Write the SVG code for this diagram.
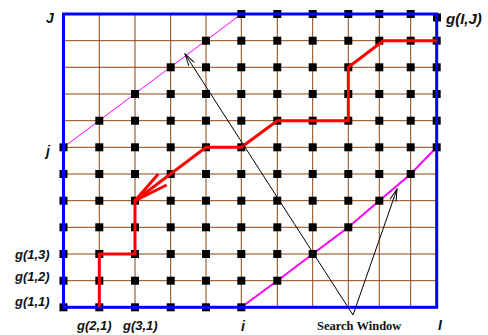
<svg xmlns="http://www.w3.org/2000/svg" xmlns:xlink="http://www.w3.org/1999/xlink" width="488" height="335" viewBox="0 0 488 335">
<style>
.grid line{stroke:#8B4513;stroke-width:1}
.mag{stroke:#FF00FF;fill:none}
.frame{stroke:#0000FF;stroke-width:3;fill:none}
.path{stroke:#FF0000;stroke-width:3;fill:none;stroke-linejoin:miter}
.arr{stroke:#000;stroke-width:1;fill:none}
.lbl{font-family:"Liberation Sans",Arial,sans-serif;font-weight:bold;font-style:italic;fill:#111}
.sw{font-family:"Liberation Serif","Times New Roman",serif;font-weight:bold;font-size:12.5px;fill:#111}
</style>
<defs>
<rect id="sq" x="-4" y="-4" width="8" height="8" fill="#000"/>
<marker id="ah" viewBox="-13 -5 14 10" refX="0" refY="0" markerWidth="14" markerHeight="10" markerUnits="userSpaceOnUse" orient="auto">
<path d="M-12,-3.2 L0,0 L-12,3.2" fill="none" stroke="#000" stroke-width="1"/>
</marker>
</defs>
<g id="grid" class="grid">
<line x1="99.3" y1="14" x2="99.3" y2="307.3"/>
<line x1="135" y1="14" x2="135" y2="307.3"/>
<line x1="170.7" y1="14" x2="170.7" y2="307.3"/>
<line x1="206" y1="14" x2="206" y2="307.3"/>
<line x1="241.3" y1="14" x2="241.3" y2="307.3"/>
<line x1="277.3" y1="14" x2="277.3" y2="307.3"/>
<line x1="312.7" y1="14" x2="312.7" y2="307.3"/>
<line x1="348.3" y1="14" x2="348.3" y2="307.3"/>
<line x1="379.3" y1="14" x2="379.3" y2="307.3"/>
<line x1="410.7" y1="14" x2="410.7" y2="307.3"/>
<line x1="63.5" y1="40.7" x2="436.7" y2="40.7"/>
<line x1="63.5" y1="67.3" x2="436.7" y2="67.3"/>
<line x1="63.5" y1="94" x2="436.7" y2="94"/>
<line x1="63.5" y1="120.7" x2="436.7" y2="120.7"/>
<line x1="63.5" y1="147.3" x2="436.7" y2="147.3"/>
<line x1="63.5" y1="174" x2="436.7" y2="174"/>
<line x1="63.5" y1="200.7" x2="436.7" y2="200.7"/>
<line x1="63.5" y1="227.3" x2="436.7" y2="227.3"/>
<line x1="63.5" y1="254" x2="436.7" y2="254"/>
<line x1="63.5" y1="280.7" x2="436.7" y2="280.7"/>
</g>
<g id="window">
<line class="mag" x1="63.5" y1="147.3" x2="241.3" y2="14" stroke-width="1"/>
<polyline class="mag" stroke-width="2" points="241.3,307.3 277.3,280.7 312.7,254 348.3,227.3 379.3,200.7 410.7,174 434,150"/>
</g>
<g id="nodes">
<g id="row1"><use href="#sq" x="63.5" y="307.3"/><use href="#sq" x="99.3" y="307.3"/><use href="#sq" x="135" y="307.3"/><use href="#sq" x="170.7" y="307.3"/><use href="#sq" x="206" y="307.3"/><use href="#sq" x="241.3" y="307.3"/></g>
<g id="row2"><use href="#sq" x="63.5" y="280.7"/><use href="#sq" x="99.3" y="280.7"/><use href="#sq" x="135" y="280.7"/><use href="#sq" x="170.7" y="280.7"/><use href="#sq" x="206" y="280.7"/><use href="#sq" x="241.3" y="280.7"/><use href="#sq" x="277.3" y="280.7"/></g>
<g id="row3"><use href="#sq" x="63.5" y="254"/><use href="#sq" x="99.3" y="254"/><use href="#sq" x="135" y="254"/><use href="#sq" x="170.7" y="254"/><use href="#sq" x="206" y="254"/><use href="#sq" x="241.3" y="254"/><use href="#sq" x="277.3" y="254"/><use href="#sq" x="312.7" y="254"/></g>
<g id="row4"><use href="#sq" x="63.5" y="227.3"/><use href="#sq" x="99.3" y="227.3"/><use href="#sq" x="135" y="227.3"/><use href="#sq" x="170.7" y="227.3"/><use href="#sq" x="206" y="227.3"/><use href="#sq" x="241.3" y="227.3"/><use href="#sq" x="277.3" y="227.3"/><use href="#sq" x="312.7" y="227.3"/><use href="#sq" x="348.3" y="227.3"/></g>
<g id="row5"><use href="#sq" x="63.5" y="200.7"/><use href="#sq" x="99.3" y="200.7"/><use href="#sq" x="135" y="200.7"/><use href="#sq" x="170.7" y="200.7"/><use href="#sq" x="206" y="200.7"/><use href="#sq" x="241.3" y="200.7"/><use href="#sq" x="277.3" y="200.7"/><use href="#sq" x="312.7" y="200.7"/><use href="#sq" x="348.3" y="200.7"/><use href="#sq" x="379.3" y="200.7"/></g>
<g id="row6"><use href="#sq" x="63.5" y="174"/><use href="#sq" x="99.3" y="174"/><use href="#sq" x="135" y="174"/><use href="#sq" x="170.7" y="174"/><use href="#sq" x="206" y="174"/><use href="#sq" x="241.3" y="174"/><use href="#sq" x="277.3" y="174"/><use href="#sq" x="312.7" y="174"/><use href="#sq" x="348.3" y="174"/><use href="#sq" x="379.3" y="174"/><use href="#sq" x="410.7" y="174"/></g>
<g id="row7"><use href="#sq" x="63.5" y="147.3"/><use href="#sq" x="99.3" y="147.3"/><use href="#sq" x="135" y="147.3"/><use href="#sq" x="170.7" y="147.3"/><use href="#sq" x="206" y="147.3"/><use href="#sq" x="241.3" y="147.3"/><use href="#sq" x="277.3" y="147.3"/><use href="#sq" x="312.7" y="147.3"/><use href="#sq" x="348.3" y="147.3"/><use href="#sq" x="379.3" y="147.3"/><use href="#sq" x="410.7" y="147.3"/><use href="#sq" x="436.7" y="147.3"/></g>
<g id="row8"><use href="#sq" x="99.3" y="120.7"/><use href="#sq" x="135" y="120.7"/><use href="#sq" x="170.7" y="120.7"/><use href="#sq" x="206" y="120.7"/><use href="#sq" x="241.3" y="120.7"/><use href="#sq" x="277.3" y="120.7"/><use href="#sq" x="312.7" y="120.7"/><use href="#sq" x="348.3" y="120.7"/><use href="#sq" x="379.3" y="120.7"/><use href="#sq" x="410.7" y="120.7"/><use href="#sq" x="436.7" y="120.7"/></g>
<g id="row9"><use href="#sq" x="135" y="94"/><use href="#sq" x="170.7" y="94"/><use href="#sq" x="206" y="94"/><use href="#sq" x="241.3" y="94"/><use href="#sq" x="277.3" y="94"/><use href="#sq" x="312.7" y="94"/><use href="#sq" x="348.3" y="94"/><use href="#sq" x="379.3" y="94"/><use href="#sq" x="410.7" y="94"/><use href="#sq" x="436.7" y="94"/></g>
<g id="row10"><use href="#sq" x="170.7" y="67.3"/><use href="#sq" x="206" y="67.3"/><use href="#sq" x="241.3" y="67.3"/><use href="#sq" x="277.3" y="67.3"/><use href="#sq" x="312.7" y="67.3"/><use href="#sq" x="348.3" y="67.3"/><use href="#sq" x="379.3" y="67.3"/><use href="#sq" x="410.7" y="67.3"/><use href="#sq" x="436.7" y="67.3"/></g>
<g id="row11"><use href="#sq" x="206" y="40.7"/><use href="#sq" x="241.3" y="40.7"/><use href="#sq" x="277.3" y="40.7"/><use href="#sq" x="312.7" y="40.7"/><use href="#sq" x="348.3" y="40.7"/><use href="#sq" x="379.3" y="40.7"/><use href="#sq" x="410.7" y="40.7"/><use href="#sq" x="436.7" y="40.7"/></g>
<g id="row12"><use href="#sq" x="241.3" y="14"/><use href="#sq" x="277.3" y="14"/><use href="#sq" x="312.7" y="14"/><use href="#sq" x="348.3" y="14"/><use href="#sq" x="379.3" y="14"/><use href="#sq" x="410.7" y="14"/><use href="#sq" x="437" y="17.5"/></g>
</g>
<g id="frame">
<rect class="frame" x="63.5" y="14" width="373.2" height="293.3"/>
</g>
<g id="connectors">
<polyline id="warp-path" class="path" points="99.3,307.3 99.3,254 135,254 135,200.7 206,147.3 241.3,147.3 277.3,120.7 348.3,120.7 348.3,67.3 383.3,40.7 436.7,40.7"/>
<path class="path" stroke-width="2.5" d="M158.3,174 L135,200.7 L166.7,185"/>
<line class="arr" x1="353" y1="315" x2="185" y2="54" marker-end="url(#ah)"/>
<line class="arr" x1="353" y1="315" x2="397" y2="189" marker-end="url(#ah)"/>
</g>
<g id="labels">
<text class="lbl" x="46" y="23.3" font-size="14">J</text>
<text class="lbl" x="46" y="156" font-size="14">j</text>
<text class="lbl" x="446" y="24" font-size="15">g(I,J)</text>
<text class="lbl" x="15" y="258.5" font-size="13">g(1,3)</text>
<text class="lbl" x="15" y="281" font-size="13">g(1,2)</text>
<text class="lbl" x="15" y="306" font-size="13">g(1,1)</text>
<text class="lbl" x="77" y="329.5" font-size="13">g(2,1)</text>
<text class="lbl" x="123" y="329.5" font-size="13">g(3,1)</text>
<text class="lbl" x="241" y="331" font-size="14">i</text>
<text class="lbl" x="438" y="330" font-size="14">I</text>
<text class="sw" x="317" y="330">Search Window</text>
</g>
</svg>
